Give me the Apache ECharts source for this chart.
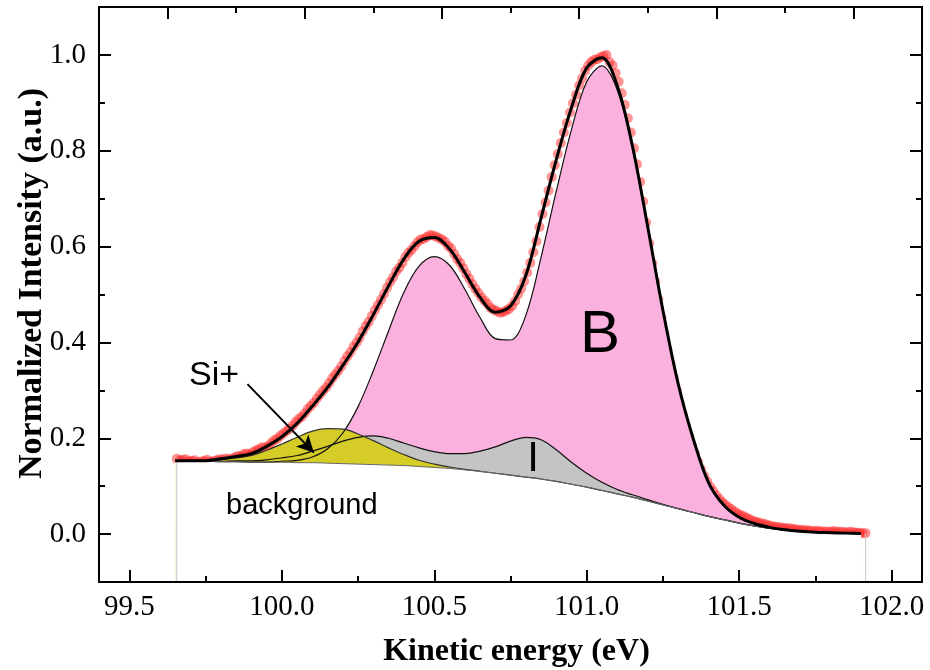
<!DOCTYPE html>
<html>
<head>
<meta charset="utf-8">
<script src="https://cdn.jsdelivr.net/npm/echarts@6/dist/echarts.min.js"></script>
<style>
html,body{margin:0;padding:0;background:#fff;}
#chart{width:930px;height:670px;}
</style>
</head>
<body>
<div id="chart"></div>
<script>
// ---------- data ----------
const energyGrid = [99.65, 99.70, 99.75, 99.80, 99.85, 99.90, 99.95, 100.00, 100.05, 100.10,
  100.15, 100.20, 100.25, 100.30, 100.35, 100.40, 100.45, 100.50, 100.55, 100.60,
  100.65, 100.70, 100.75, 100.80, 100.85, 100.90, 100.95, 101.00, 101.05, 101.10,
  101.15, 101.20, 101.25, 101.30, 101.35, 101.40, 101.45, 101.50, 101.55, 101.60,
  101.65, 101.70, 101.75, 101.80, 101.85, 101.90];

const background = [0.153, 0.152, 0.152, 0.151, 0.151, 0.150, 0.150, 0.150, 0.149, 0.149,
  0.148, 0.147, 0.146, 0.145, 0.144, 0.143, 0.141, 0.139, 0.137, 0.134,
  0.131, 0.127, 0.123, 0.119, 0.115, 0.110, 0.104, 0.098, 0.091, 0.084,
  0.077, 0.069, 0.061, 0.053, 0.045, 0.037, 0.030, 0.023, 0.017, 0.012,
  0.008, 0.006, 0.004, 0.003, 0.002, 0.001];

const siComponent = [0.001, 0.001, 0.001, 0.004, 0.008, 0.014, 0.025, 0.038, 0.053, 0.066,
  0.072, 0.072, 0.063, 0.050, 0.036, 0.023, 0.013, 0.007, 0.003, 0.001,
  0, 0, 0, 0, 0, 0, 0, 0, 0, 0,
  0, 0, 0, 0, 0, 0, 0, 0, 0, 0,
  0, 0, 0, 0, 0, 0];

const iComponent = [0, 0, 0, 0.001, 0.002, 0.003, 0.005, 0.009, 0.015, 0.024,
  0.035, 0.047, 0.056, 0.060, 0.056, 0.047, 0.039, 0.033, 0.031, 0.034,
  0.042, 0.055, 0.071, 0.083, 0.082, 0.066, 0.046, 0.029, 0.017, 0.009,
  0.005, 0.003, 0.001, 0, 0, 0, 0, 0, 0, 0,
  0, 0, 0, 0, 0, 0];

const bComponent = [0, 0, 0, 0, 0, 0, 0, 0.002, 0.005, 0.012,
  0.030, 0.064, 0.120, 0.196, 0.280, 0.361, 0.418, 0.440, 0.424, 0.377,
  0.321, 0.281, 0.282, 0.337, 0.462, 0.605, 0.740, 0.846, 0.886, 0.843,
  0.728, 0.570, 0.405, 0.261, 0.153, 0.070, 0.030, 0.012, 0.005, 0.002,
  0.001, 0, 0, 0, 0, 0];

const envelope = [0.153, 0.153, 0.153, 0.157, 0.162, 0.168, 0.183, 0.203, 0.231, 0.267,
  0.306, 0.352, 0.401, 0.458, 0.518, 0.574, 0.611, 0.619, 0.595, 0.546,
  0.494, 0.463, 0.476, 0.539, 0.659, 0.781, 0.890, 0.973, 0.994, 0.936,
  0.810, 0.642, 0.467, 0.314, 0.198, 0.107, 0.060, 0.035, 0.022, 0.014,
  0.009, 0.006, 0.004, 0.003, 0.002, 0.001];

const dataEnergy = [
  99.655, 99.665, 99.675, 99.685, 99.695, 99.705, 99.715, 99.725, 99.735, 99.745,
  99.755, 99.765, 99.775, 99.785, 99.795, 99.805, 99.815, 99.825, 99.835, 99.845,
  99.855, 99.865, 99.875, 99.885, 99.895, 99.905, 99.915, 99.925, 99.935, 99.945,
  99.955, 99.965, 99.975, 99.985, 99.995, 100.005, 100.015, 100.025, 100.035, 100.045,
  100.055, 100.065, 100.075, 100.085, 100.095, 100.105, 100.115, 100.125, 100.135, 100.145,
  100.155, 100.165, 100.175, 100.185, 100.195, 100.205, 100.215, 100.225, 100.235, 100.245,
  100.255, 100.265, 100.275, 100.285, 100.295, 100.305, 100.315, 100.325, 100.335, 100.345,
  100.355, 100.365, 100.375, 100.385, 100.395, 100.405, 100.415, 100.425, 100.435, 100.445,
  100.455, 100.465, 100.475, 100.485, 100.495, 100.505, 100.515, 100.525, 100.535, 100.545,
  100.555, 100.565, 100.575, 100.585, 100.595, 100.605, 100.615, 100.625, 100.635, 100.645,
  100.655, 100.665, 100.675, 100.685, 100.695, 100.705, 100.715, 100.725, 100.735, 100.745,
  100.755, 100.765, 100.775, 100.785, 100.795, 100.805, 100.815, 100.825, 100.835, 100.845,
  100.855, 100.865, 100.875, 100.885, 100.895, 100.905, 100.915, 100.925, 100.935, 100.945,
  100.955, 100.965, 100.975, 100.985, 100.995, 101.005, 101.015, 101.025, 101.035, 101.045,
  101.055, 101.065, 101.075, 101.085, 101.095, 101.105, 101.115, 101.125, 101.135, 101.145,
  101.155, 101.165, 101.175, 101.185, 101.195, 101.205, 101.215, 101.225, 101.235, 101.245,
  101.255, 101.265, 101.275, 101.285, 101.295, 101.305, 101.315, 101.325, 101.335, 101.345,
  101.355, 101.365, 101.375, 101.385, 101.395, 101.405, 101.415, 101.425, 101.435, 101.445,
  101.455, 101.465, 101.475, 101.485, 101.495, 101.505, 101.515, 101.525, 101.535, 101.545,
  101.555, 101.565, 101.575, 101.585, 101.595, 101.605, 101.615, 101.625, 101.635, 101.645,
  101.655, 101.665, 101.675, 101.685, 101.695, 101.705, 101.715, 101.725, 101.735, 101.745,
  101.755, 101.765, 101.775, 101.785, 101.795, 101.805, 101.815, 101.825, 101.835, 101.845,
  101.855, 101.865, 101.875, 101.885, 101.895, 101.905, 101.915];

const dataIntensity = [
  0.157, 0.154, 0.155, 0.156, 0.152, 0.153, 0.154, 0.150, 0.151, 0.153,
  0.155, 0.151, 0.152, 0.154, 0.156, 0.155, 0.158, 0.156, 0.157, 0.160,
  0.163, 0.162, 0.167, 0.168, 0.166, 0.171, 0.175, 0.177, 0.181, 0.180,
  0.184, 0.190, 0.196, 0.199, 0.205, 0.210, 0.215, 0.220, 0.226, 0.234,
  0.240, 0.245, 0.252, 0.261, 0.268, 0.274, 0.283, 0.291, 0.299, 0.306,
  0.315, 0.325, 0.333, 0.341, 0.350, 0.361, 0.371, 0.380, 0.391, 0.400,
  0.410, 0.423, 0.434, 0.443, 0.455, 0.467, 0.478, 0.489, 0.501, 0.514,
  0.526, 0.536, 0.548, 0.556, 0.566, 0.578, 0.587, 0.593, 0.601, 0.609,
  0.615, 0.616, 0.620, 0.624, 0.623, 0.621, 0.618, 0.615, 0.610, 0.602,
  0.596, 0.585, 0.574, 0.566, 0.555, 0.543, 0.533, 0.522, 0.512, 0.503,
  0.494, 0.487, 0.480, 0.472, 0.468, 0.465, 0.462, 0.463, 0.466, 0.470,
  0.476, 0.486, 0.500, 0.512, 0.527, 0.546, 0.566, 0.588, 0.611, 0.641,
  0.668, 0.692, 0.717, 0.745, 0.770, 0.793, 0.816, 0.838, 0.858, 0.880,
  0.899, 0.917, 0.936, 0.951, 0.967, 0.978, 0.985, 0.990, 0.991, 0.995,
  0.998, 1.000, 0.985, 0.978, 0.962, 0.944, 0.920, 0.896, 0.868, 0.838,
  0.805, 0.772, 0.735, 0.694, 0.650, 0.607, 0.565, 0.527, 0.490, 0.452,
  0.418, 0.385, 0.355, 0.326, 0.300, 0.274, 0.250, 0.227, 0.205, 0.186,
  0.168, 0.151, 0.136, 0.122, 0.110, 0.099, 0.090, 0.081, 0.073, 0.067,
  0.061, 0.056, 0.052, 0.047, 0.043, 0.040, 0.037, 0.034, 0.031, 0.028,
  0.026, 0.024, 0.022, 0.021, 0.019, 0.017, 0.016, 0.015, 0.014, 0.013,
  0.012, 0.012, 0.011, 0.010, 0.009, 0.009, 0.008, 0.008, 0.007, 0.006,
  0.007, 0.006, 0.006, 0.005, 0.005, 0.006, 0.006, 0.005, 0.005, 0.004,
  0.004, 0.005, 0.004, 0.003, 0.003, 0.002, 0.002];

// axis ticks / labels
const xTickValues = [99.5, 100.0, 100.5, 101.0, 101.5, 102.0];
const xMinorTickValues = [99.75, 100.25, 100.75, 101.25, 101.75];
const topTickValues = [0, 1, 2, 3, 4, 5];
const topMinorTickValues = [0.5, 1.5, 2.5, 3.5, 4.5];
const yTickValues = [0.0, 0.2, 0.4, 0.6, 0.8, 1.0];
const yMinorTickValues = [0.1, 0.3, 0.5, 0.7, 0.9];

// annotation arrow (data coordinates of start and head)
const arrowStart = [99.887, 0.313];
const arrowEnd = [100.105, 0.170];

// ---------- chart ----------
const X_MIN = 99.4, X_MAX = 102.1, Y_MIN = -0.1, Y_MAX = 1.1;
const pairs = (xs, ys) => xs.map((x, i) => [x, ys[i]]);
const onBackground = comp => energyGrid.map((x, i) => [x, background[i] + comp[i]]);
const SERIF = 'Liberation Serif';
const SANS = 'Liberation Sans';
const SM = 0.35;

function axisX(pos, min, max, major, minor, withLine) {
  return {
    type: 'value', position: pos, min: min, max: max, z: 10,
    axisLine: { show: withLine, onZero: false, lineStyle: { color: '#000', width: 2 } },
    axisTick: { show: true, inside: true, length: major ? 12 : 6,
      lineStyle: { color: '#000', width: 2 }, customValues: major || minor },
    axisLabel: { show: false },
    splitLine: { show: false }
  };
}
function axisY(pos, major, minor, withLine) {
  return {
    type: 'value', position: pos, min: Y_MIN, max: Y_MAX, z: 10,
    axisLine: { show: withLine, onZero: false, lineStyle: { color: '#000', width: 2 } },
    axisTick: { show: true, inside: true, length: major ? 12 : 6,
      lineStyle: { color: '#000', width: 2 }, customValues: major || minor },
    axisLabel: { show: false },
    splitLine: { show: false }
  };
}
const tickRich = { t: { fontFamily: SERIF, fontSize: 29, color: '#000' } };

const xMain = axisX('bottom', X_MIN, X_MAX, xTickValues, null, true);
xMain.axisLabel = { show: true, customValues: xTickValues,
  formatter: v => '{t|' + Number(v).toFixed(1) + '}', rich: tickRich,
  margin: 11, fontFamily: SERIF, fontSize: 29, color: '#000' };
xMain.name = 'Kinetic energy (eV)';
xMain.nameLocation = 'middle';
xMain.nameGap = 54;
xMain.nameTextStyle = { fontFamily: SERIF, fontWeight: 'bold', fontSize: 32, color: '#000',
  padding: [0, 0, 0, 12] };

const yMain = axisY('left', yTickValues, null, true);
yMain.axisLabel = { show: true, customValues: yTickValues,
  formatter: v => '{t|' + Number(v).toFixed(1) + '}', rich: tickRich,
  margin: 13, fontFamily: SERIF, fontSize: 29, color: '#000' };
yMain.name = 'Normalized Intensity (a.u.)';
yMain.nameLocation = 'middle';
yMain.nameGap = 50;
yMain.nameMoveOverlap = false;
yMain.nameRotate = 90;
yMain.nameTextStyle = { fontFamily: SERIF, fontWeight: 'bold', fontSize: 34, color: '#000',
  padding: [0, 0, 0, 22] };

function filledCurve(name, comp, fill, lineColor) {
  return { name: name, type: 'line', data: onBackground(comp), symbol: 'none',
    smooth: SM, lineStyle: { color: lineColor, width: 1.2 },
    areaStyle: { color: fill, opacity: 1, origin: 'start' }, silent: true };
}

const option = {
  animation: false,
  backgroundColor: '#fff',
  textStyle: { fontFamily: SERIF },
  grid: { left: 99, right: 8, top: 7, bottom: 88, containLabel: false, outerBoundsMode: 'none' },
  xAxis: [
    xMain,
    axisX('top', -0.5, 5.5, topTickValues, null, true),
    axisX('bottom', X_MIN, X_MAX, null, xMinorTickValues, false),
    axisX('top', -0.5, 5.5, null, topMinorTickValues, false)
  ],
  yAxis: [
    yMain,
    axisY('left', null, yMinorTickValues, false),
    axisY('right', yTickValues, null, true),
    axisY('right', null, yMinorTickValues, false)
  ],
  series: [
    filledCurve('B', bComponent, '#fbb1dd', '#111'),
    filledCurve('I', iComponent, '#c4c4c4', '#111'),
    filledCurve('Si+', siComponent, '#d5cc27', '#333'),
    { name: 'background', type: 'line', data: pairs(energyGrid, background), symbol: 'none',
      smooth: SM, lineStyle: { color: '#666', width: 1 },
      areaStyle: { color: '#fff', opacity: 1, origin: 'start' }, silent: true },
    { name: 'drop-left', type: 'line', symbol: 'none',
      data: [[dataEnergy[0], dataIntensity[0]], [dataEnergy[0], Y_MIN]],
      lineStyle: { color: '#c8c8c8', width: 1 }, silent: true },
    { name: 'drop-right', type: 'line', symbol: 'none',
      data: [[dataEnergy[dataEnergy.length - 1], dataIntensity[dataIntensity.length - 1]],
             [dataEnergy[dataEnergy.length - 1], Y_MIN]],
      lineStyle: { color: '#c8c8c8', width: 1 }, silent: true },
    { name: 'data', type: 'scatter', data: pairs(dataEnergy, dataIntensity), symbol: 'circle',
      symbolSize: 10, itemStyle: { color: 'rgba(255,25,25,0.58)' }, silent: true },
    { name: 'envelope', type: 'line', data: pairs(energyGrid, envelope), symbol: 'none',
      smooth: SM, lineStyle: { color: '#000', width: 3 }, z: 5, silent: true,
      markLine: {
        silent: true, symbol: ['none', 'arrow'], symbolSize: [13, 17],
        label: { show: false },
        lineStyle: { color: '#000', width: 2, type: 'solid' },
        data: [[{ coord: arrowStart }, { coord: arrowEnd }]]
      } }
  ],
  graphic: [
    { type: 'text', z: 100, x: 189, y: 376, style: { text: 'Si+', font: '34px ' + SANS, fill: '#000',
      align: 'left', verticalAlign: 'middle' } },
    { type: 'text', z: 100, x: 226, y: 506, style: { text: 'background', font: '29px ' + SANS, fill: '#000',
      align: 'left', verticalAlign: 'middle' } },
    { type: 'text', z: 100, x: 600, y: 335, style: { text: 'B', font: '60px ' + SANS, fill: '#000',
      align: 'center', verticalAlign: 'middle' } },
    { type: 'text', z: 100, x: 533, y: 459, style: { text: 'I', font: '42px ' + SANS, fill: '#000',
      align: 'center', verticalAlign: 'middle' } }
  ]
};

const chart = echarts.init(document.getElementById('chart'), null, { renderer: 'canvas' });
chart.setOption(option);
</script>
</body>
</html>
